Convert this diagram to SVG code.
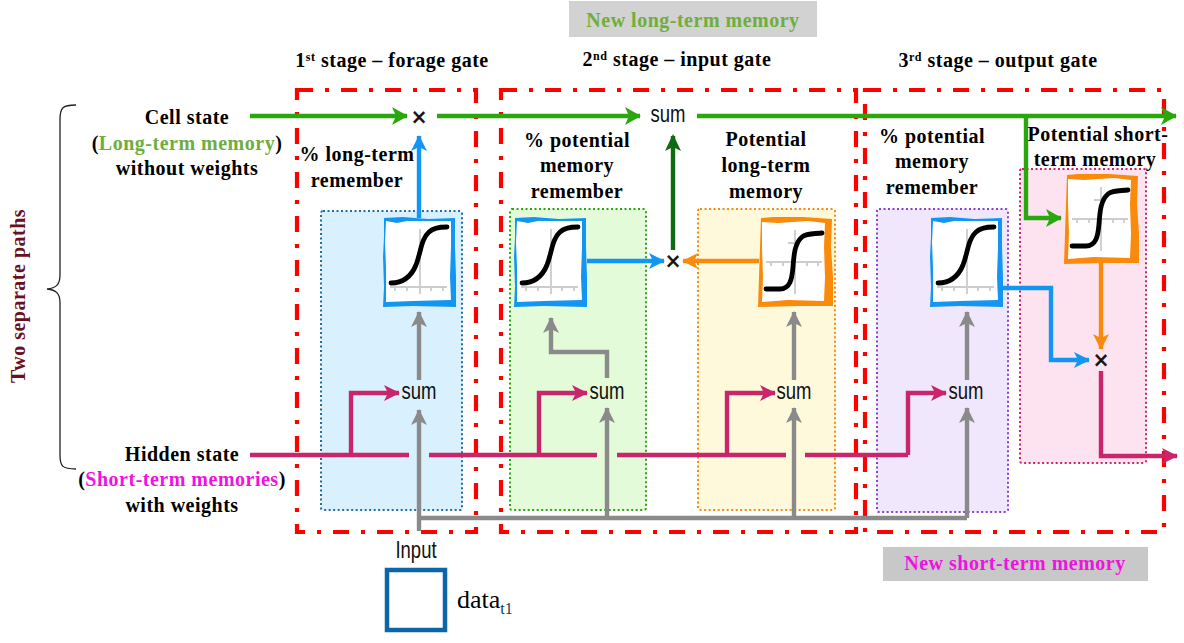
<svg xmlns="http://www.w3.org/2000/svg" width="1184" height="643" viewBox="0 0 1184 643">
<style>
.t{font-family:"Liberation Serif","Times New Roman",serif;font-weight:bold;font-size:20px;letter-spacing:.5px;fill:#000;text-anchor:middle}
.s{font-family:"Liberation Sans",Arial,sans-serif;font-size:23px;fill:#111;text-anchor:middle}
.x{font-family:"Liberation Sans",Arial,sans-serif;font-size:25px;fill:#111;stroke:#111;stroke-width:.6;text-anchor:middle}
.st{fill:none;stroke:#f00;stroke-width:4.200;stroke-dasharray:16 12 4 12}
.c{fill:none;stroke-width:4.400}
.ax{fill:none;stroke:#ccc;stroke-width:1.800}
.cv{fill:none;stroke:#000;stroke-width:4.800;stroke-linecap:round}
.p{stroke-width:2;stroke-dasharray:2 2.5}
</style>
<defs>
<marker id="ag" markerUnits="userSpaceOnUse" markerWidth="20" markerHeight="20" refX="15" refY="9" orient="auto"><path d="M0 0L16 9L0 18L4 9Z" fill="#2aa70c"/></marker>
<marker id="ab" markerUnits="userSpaceOnUse" markerWidth="20" markerHeight="20" refX="15" refY="9" orient="auto"><path d="M0 1L16 9L0 17L4 9Z" fill="#1296f2"/></marker>
<marker id="ao" markerUnits="userSpaceOnUse" markerWidth="20" markerHeight="20" refX="15" refY="9" orient="auto"><path d="M0 1L16 9L0 17L4 9Z" fill="#f98a0c"/></marker>
<marker id="ad" markerUnits="userSpaceOnUse" markerWidth="20" markerHeight="20" refX="15" refY="9" orient="auto"><path d="M0 1L17 9L0 17L4 9Z" fill="#0f6a14"/></marker>
<marker id="ay" markerUnits="userSpaceOnUse" markerWidth="20" markerHeight="20" refX="15" refY="9" orient="auto"><path d="M0 1L16 9L0 17L4 9Z" fill="#8a8a8a"/></marker>
<marker id="am" markerUnits="userSpaceOnUse" markerWidth="20" markerHeight="20" refX="15" refY="9" orient="auto"><path d="M0 1L16 9L0 17L4 9Z" fill="#c9256b"/></marker>
<g id="sigA">
<path fill="#1296f2" d="M1 1L20 0L45 2L72 1L72 30L73 60L73 90L30 89L0 90L1 70L0 40L1 20Z"/>
<path fill="#fff" d="M3 4L14 6L24 4L68 4L68 30L67 60L68 83L30 84L3 85L3 50L2 25Z"/>
<path class="ax" d="M37 12V77M7 70H64M12 70V74M24 70V74M48 70V74M60 70V74"/>
<path class="cv" d="M8 66C20 66 28 60 33 48C38 35 38 22 46 15C50 11 56 10 64 10"/></g>
<g id="sigB">
<path fill="#f98a0c" d="M3 1L15 0L45 0L74 2L73 30L75 60L75 89L40 89L0 90L1 60L2 30Z"/>
<path fill="#fff" d="M4 5L20 6L50 4L67 6L66 30L67 60L66 84L30 83L4 85L5 60L4 30Z"/>
<path class="ax" d="M37 13V77M8 45H64M13 45V49M25 45V49M49 45V49M60 45V49M30 26H40"/>
<path class="cv" d="M8 72H22C32 72 34 62 35 50C36 36 37 26 44 20C49 16 56 17 64 16"/></g>
</defs>
<rect width="1184" height="643" fill="#fff"/>
<g id="panels">
<rect id="panel-1" class="p" x="321" y="211" width="141" height="299" rx="2" fill="#d9f0ff" stroke="#1b6fae"/>
<rect id="panel-2" class="p" x="510" y="209" width="136" height="301" rx="2" fill="#e3fbd8" stroke="#2aa70c"/>
<rect id="panel-3" class="p" x="698" y="209" width="137" height="301" rx="2" fill="#fff9dc" stroke="#f98a0c"/>
<rect id="panel-4" class="p" x="877" y="209" width="131" height="303" rx="2" fill="#f0e7fc" stroke="#8a3fd8"/>
<rect id="panel-5" class="p" x="1020" y="169" width="126" height="294" rx="2" fill="#fde3f0" stroke="#c9256b"/>
</g>
<g id="stages">
<rect id="stage-1" class="st" x="297" y="90" width="179" height="442"/>
<rect id="stage-2" class="st" x="501" y="90" width="355" height="442"/>
<rect id="stage-3" class="st" x="865" y="90" width="299" height="442"/>
</g>
<g id="connectors">
<path class="c" stroke="#2aa70c" marker-end="url(#ag)" d="M250 116H407"/>
<path class="c" stroke="#2aa70c" marker-end="url(#ag)" d="M437 116H640"/>
<path class="c" stroke="#2aa70c" marker-end="url(#ag)" d="M697 116H1176"/>
<path class="c" stroke="#2aa70c" marker-end="url(#ag)" d="M1026 116V218H1061"/>
<path class="c" stroke="#1296f2" marker-end="url(#ab)" d="M419 218V136"/>
<path class="c" stroke="#1296f2" marker-end="url(#ab)" d="M587 261H664"/>
<path class="c" stroke="#f98a0c" marker-end="url(#ao)" d="M759 261H683"/>
<path class="c" stroke="#0f6a14" marker-end="url(#ad)" d="M673 250V136"/>
<path class="c" stroke="#1296f2" marker-end="url(#ab)" d="M1003 288H1051V360H1089"/>
<path class="c" stroke="#f98a0c" marker-end="url(#ao)" d="M1101 263V349"/>
<path class="c" stroke="#c9256b" marker-end="url(#am)" d="M1101 371V456H1177"/>
<path class="c" stroke="#c9256b" d="M250 455H409M429 455H597M617 455H786M805 455H908"/>
<path class="c" stroke="#c9256b" marker-end="url(#am)" d="M351 455V393H399"/>
<path class="c" stroke="#c9256b" marker-end="url(#am)" d="M539 455V393H587"/>
<path class="c" stroke="#c9256b" marker-end="url(#am)" d="M727 455V393H775"/>
<path class="c" stroke="#c9256b" marker-end="url(#am)" d="M908 455V393H946"/>
<path class="c" stroke="#8a8a8a" marker-end="url(#ay)" d="M419 531V410"/>
<path class="c" stroke="#8a8a8a" d="M419 518H967"/>
<path class="c" stroke="#8a8a8a" marker-end="url(#ay)" d="M607 518V408"/>
<path class="c" stroke="#8a8a8a" marker-end="url(#ay)" d="M794 518V408"/>
<path class="c" stroke="#8a8a8a" marker-end="url(#ay)" d="M967 518V408"/>
<path class="c" stroke="#8a8a8a" marker-end="url(#ay)" d="M419 380V312"/>
<path class="c" stroke="#8a8a8a" marker-end="url(#ay)" d="M607 378V352H551V318"/>
<path class="c" stroke="#8a8a8a" marker-end="url(#ay)" d="M794 380V312"/>
<path class="c" stroke="#8a8a8a" marker-end="url(#ay)" d="M967 380V312"/>
</g>
<g id="sig-1"><use href="#sigA" x="383" y="217"/></g>
<g id="sig-2"><use href="#sigA" x="514" y="217"/></g>
<g id="sig-3"><use href="#sigB" x="758" y="217"/></g>
<g id="sig-4"><use href="#sigA" x="930" y="217"/></g>
<g id="sig-5"><use href="#sigB" x="1064" y="174"/></g>
<g id="ops">
<text class="s" x="419" y="399" textLength="35" lengthAdjust="spacingAndGlyphs">sum</text>
<text class="s" x="607" y="399" textLength="35" lengthAdjust="spacingAndGlyphs">sum</text>
<text class="s" x="794" y="399" textLength="35" lengthAdjust="spacingAndGlyphs">sum</text>
<text class="s" x="966" y="399" textLength="35" lengthAdjust="spacingAndGlyphs">sum</text>
<text class="s" x="668" y="122" textLength="35" lengthAdjust="spacingAndGlyphs">sum</text>
<text class="x" x="419" y="126">×</text><text class="x" x="673" y="270">×</text><text class="x" x="1101" y="369">×</text>
</g>
<g id="labels">
<rect x="569" y="1" width="248" height="36" fill="#d2d2d2"/>
<text class="t" x="693" y="27" style="fill:#6fae3c">New long-term  memory</text>
<rect x="883" y="547" width="265" height="34" fill="#c8c8c8"/>
<text class="t" x="1015" y="570" style="fill:#f012e0">New short-term  memory</text>
<text class="t" x="392" y="67">1<tspan font-size="12" dy="-6">st</tspan><tspan dy="6"> stage – forage gate</tspan></text>
<text class="t" x="677" y="66">2<tspan font-size="12" dy="-6">nd</tspan><tspan dy="6"> stage – input  gate</tspan></text>
<text class="t" x="998" y="67">3<tspan font-size="12" dy="-6">rd</tspan><tspan dy="6"> stage – output gate</tspan></text>
<text class="t" x="187" y="124">Cell state</text>
<text class="t" x="187" y="150">(<tspan fill="#6fae3c">Long-term memory</tspan>)</text>
<text class="t" x="187" y="175">without weights</text>
<text class="t" x="182" y="461">Hidden state</text>
<text class="t" x="182" y="486">(<tspan fill="#f012e0">Short-term memories</tspan>)</text>
<text class="t" x="182" y="512">with weights</text>
<text class="t" x="357" y="161">% long-term</text>
<text class="t" x="357" y="187">remember</text>
<text class="t" x="577" y="147">% potential</text>
<text class="t" x="577" y="172">memory</text>
<text class="t" x="577" y="198">remember</text>
<text class="t" x="766" y="146">Potential</text>
<text class="t" x="766" y="172">long-term</text>
<text class="t" x="766" y="198">memory</text>
<text class="t" x="932" y="143">% potential</text>
<text class="t" x="932" y="168">memory</text>
<text class="t" x="932" y="194">remember</text>
<text class="t" x="1098" y="141">Potential short-</text>
<text class="t" x="1095" y="166">term  memory</text>
<text class="t" x="0" y="0" transform="translate(25,296) rotate(-90)" style="fill:#6b1020">Two separate paths</text>
<path d="M76 105C62 105 60 108 60 120V275C60 285 56 288 47 289C56 290 60 293 60 303V455C60 466 62 469 76 469" fill="none" stroke="#222" stroke-width="1.300"/>
<text class="s" x="416" y="558" textLength="41" lengthAdjust="spacingAndGlyphs">Input</text>
<rect id="input-box" x="387" y="570" width="58" height="60" fill="#fff" stroke="#0b66a8" stroke-width="4.500"/>
<text x="457" y="608" font-family="Liberation Serif,serif" font-size="26" fill="#000">data<tspan font-size="16" dy="6" fill="#0b3a66">t1</tspan></text>
</g>
</svg>
